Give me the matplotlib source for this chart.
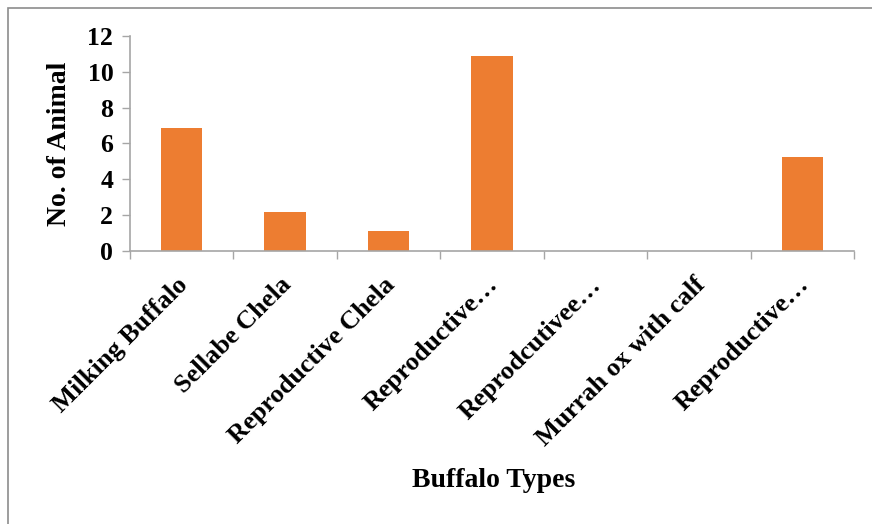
import matplotlib
matplotlib.use("Agg")
import matplotlib.pyplot as plt
from matplotlib.patches import Rectangle
import numpy as np

categories = ["Milking Buffalo", "Sellabe Chela", "Reproductive Chela",
              "Reproductive\u2026", "Reprodcutivee\u2026", "Murrah ox with calf",
              "Reproductive\u2026"]
counts = [6.85, 2.15, 1.1, 10.9, 0, 0, 5.25]
y_ticks = [0, 2, 4, 6, 8, 10, 12]

plt.rcParams["font.family"] = ["Liberation Serif", "DejaVu Serif"]
plt.rcParams["font.weight"] = "bold"

W, H = 872, 524
fig = plt.figure(figsize=(W / 100, H / 100), dpi=100)
ax = fig.add_axes([130 / W, 1 - 251 / H, (854 - 130) / W, (251 - 36) / H])

bar_color = "#ED7D31"
axis_color = "#A6A6A6"

x = np.arange(len(categories))
ax.bar(x, counts, width=0.4, color=bar_color, edgecolor="none")

ax.set_xlim(-0.5, len(categories) - 0.5)
ax.set_ylim(0, 12)
ax.set_yticks(y_ticks)
ax.set_yticklabels([str(t) for t in y_ticks], fontsize=18.5, fontweight="bold")

# category boundaries carry the tick marks, labels sit at the centers
ax.set_xticks(np.arange(len(categories) + 1) - 0.5)
ax.set_xticklabels([])
ax.tick_params(axis="x", direction="out", length=6, width=1, color=axis_color)
ax.tick_params(axis="y", direction="out", length=6, width=1, color=axis_color, pad=6)

for i, name in enumerate(categories):
    ax.annotate(name, xy=(i, 0), xycoords=("data", "axes fraction"),
                xytext=(-4, -16), textcoords="offset points",
                rotation=45, rotation_mode="anchor", ha="right", va="top",
                fontsize=19, fontweight="bold")

for side in ("top", "right"):
    ax.spines[side].set_visible(False)
for side in ("left", "bottom"):
    ax.spines[side].set_color(axis_color)
    ax.spines[side].set_linewidth(1.2)

ax.set_ylabel("No. of Animal", fontsize=20, fontweight="bold", va="center")
ax.yaxis.set_label_coords((60 - 130) / (854 - 130), 0.5)
ax.set_xlabel("Buffalo Types", fontsize=20, fontweight="bold", va="center")
ax.xaxis.set_label_coords((494 - 130) / (854 - 130), (251 - 481) / (251 - 36))

# chart frame
fig.patches.append(Rectangle((8 / W, -0.1), 1.2, 1 - 8 / H + 0.1,
                             transform=fig.transFigure, fill=False,
                             edgecolor="#8C8C8C", linewidth=1.2))

fig.savefig("out.png", dpi=100, facecolor="white")
